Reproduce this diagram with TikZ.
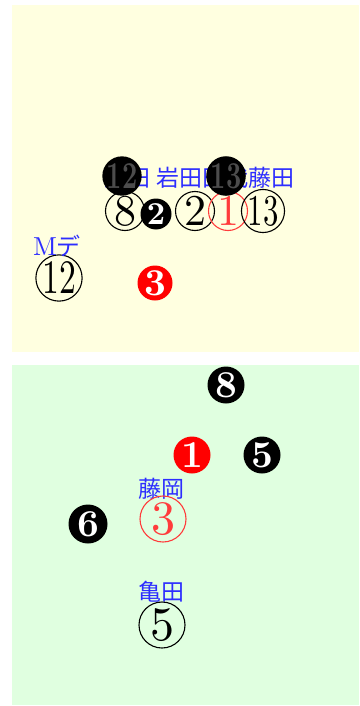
\documentclass[tikz,border=0pt]{standalone}
\usepackage{fontspec}
\usepackage{xcolor}
\usepackage{tikz}
\usetikzlibrary{positioning}

\newfontfamily\jpfont{Noto Sans CJK JP}
\newfontfamily\digitfont{lmroman10-regular.otf}
\newfontfamily\digitbold{lmroman10-bold.otf}
\definecolor{benchbg}{RGB}{255,255,224}
\definecolor{fieldbg}{RGB}{224,255,224}
\definecolor{labelblue}{RGB}{45,45,255}
\definecolor{lightred}{RGB}{255,60,60}
\newcommand{\squeeze}[1]{\scalebox{0.7}[1]{#1}}

\tikzset{
  numring/.style={circle, draw=black, line width=1.1pt, minimum size=46pt, inner sep=0pt, font=\digitfont\fontsize{48}{48}\selectfont},
  smallring/.style={numring, minimum size=39pt, font=\digitfont\fontsize{44}{44}\selectfont},
  redring/.style={draw=lightred, text=lightred},
  ball/.style={circle, fill=black, text=white, minimum size=37pt, inner sep=0pt, font=\digitbold\fontsize{38}{38}\selectfont},
  redball/.style={ball, fill=red},
  player/.style={text=labelblue, inner sep=0pt, font=\jpfont\fontsize{23}{23}\selectfont},
}

\begin{document}
\begin{tikzpicture}[x=1pt, y=-1pt]
        \useasboundingbox (0,0) rectangle (359,706);
        \fill[benchbg] (12,5) rectangle (359,352);
        \fill[fieldbg] (12,365) rectangle (359,705);
%
        \node[smallring] (r8) at (125,211) {8};
        \node[smallring] (r2) at (195,211) {2};
        \node[smallring, redring] (r1) at (228,211) {1};
        \node[smallring] (r13) at (263,211) {\squeeze{13}};
        \node[numring] (r12) at (59,278) {\squeeze{12}};
%
        \node[player] (toyoda) at (127,178) {豊田};
        \node[player] (iwata) at (179,178) {岩田};
        \node[player] (tashiro) at (225,178) {田代};
        \node[player] (fujita) at (271,178) {藤田};
        \node[player, font=\digitfont\fontsize{26}{26}\selectfont] (mde) at (57,246) {M{\jpfont\fontsize{24}{24}\selectfont デ}};
%
        \node[ball, minimum size=35pt, text=white!30!black] (b12) at (122,176) {\squeeze{12}};
        \node[ball, minimum size=33pt, text=white!30!black] (b13) at (226,176) {\squeeze{13}};
        \node[ball, minimum size=31pt, font=\digitbold\fontsize{32}{32}\selectfont] (b2) at (156,214) {2};
        \node[redball, minimum size=35pt] (b3) at (155,283) {3};
%
        \node[ball] (b8) at (226,385) {8};
        \node[redball] (b1) at (192,455) {1};
        \node[ball] (b5) at (262,455) {5};
        \node[ball, minimum size=39pt] (b6) at (88,524) {6};
%
        \node[player] (fujioka) at (161,489) {藤岡};
        \node[numring, redring] (r3) at (163,519) {3};
        \node[player] (kameda) at (161,592) {亀田};
        \node[numring] (r5) at (162,625) {5};
\end{tikzpicture}
\end{document}
